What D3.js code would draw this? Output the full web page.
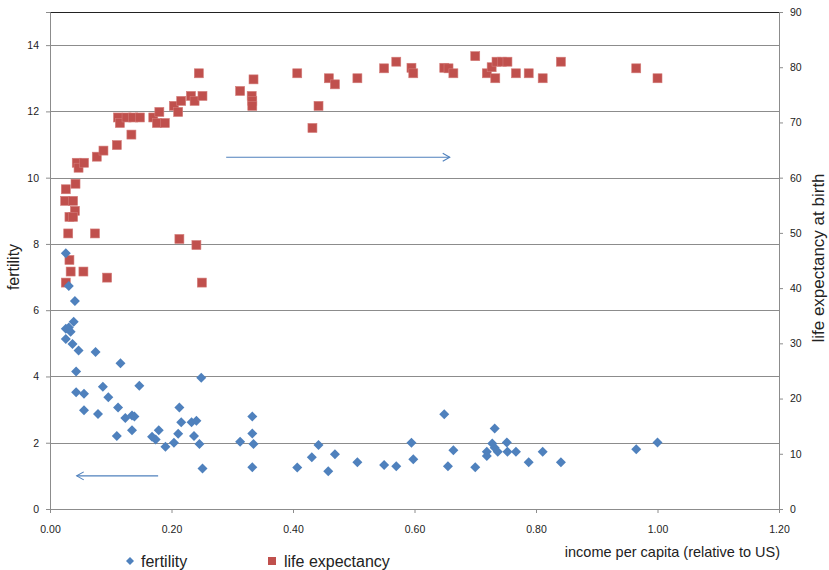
<!DOCTYPE html>
<html>
<head>
<meta charset="utf-8">
<script src="https://cdn.jsdelivr.net/npm/d3@7"></script>
<style>
  body { margin: 0; background: #fff; }
  text { font-family: "Liberation Sans", Arial, sans-serif; fill: #222; }
</style>
</head>
<body>
<div id="chart"></div>
<script>
// fertility series: income per capita (relative to US) and fertility
var fertIncome = [0.026, 0.031, 0.041, 0.026, 0.026, 0.031, 0.034, 0.039, 0.037, 0.047, 0.043, 0.043, 0.056, 0.056,
    0.075, 0.116, 0.087, 0.096, 0.079, 0.147, 0.112, 0.124, 0.135, 0.139, 0.135, 0.110, 0.168, 0.174, 0.179, 0.190,
    0.204, 0.211, 0.213, 0.216, 0.233, 0.241, 0.237, 0.246, 0.249, 0.251, 0.313, 0.333, 0.333, 0.335, 0.333,
    0.407, 0.431, 0.442, 0.458, 0.469, 0.506, 0.550, 0.570, 0.595, 0.598, 0.649, 0.655, 0.664, 0.700, 0.719,
    0.719, 0.728, 0.732, 0.732, 0.737, 0.752, 0.753, 0.767, 0.788, 0.811, 0.841, 0.965, 1.00];
var fertility = [7.72, 6.73, 6.28, 5.13, 5.44, 5.48, 5.35, 5.65, 4.98, 4.78, 4.15, 3.52, 3.48, 2.98,
    4.74, 4.40, 3.69, 3.37, 2.87, 3.72, 3.06, 2.75, 2.82, 2.79, 2.38, 2.20, 2.18, 2.10, 2.38, 1.88,
    2.00, 2.27, 3.06, 2.62, 2.62, 2.66, 2.20, 1.96, 3.96, 1.22, 2.03, 2.28, 2.79, 1.96, 1.26,
    1.25, 1.56, 1.93, 1.14, 1.65, 1.41, 1.33, 1.29, 2.00, 1.50, 2.86, 1.29, 1.77, 1.26, 1.73,
    1.60, 1.98, 2.43, 1.85, 1.73, 2.01, 1.73, 1.73, 1.41, 1.73, 1.41, 1.80, 2.01];

// life expectancy series: income per capita and life expectancy at birth
var lifeIncome = [0.026, 0.025, 0.038, 0.042, 0.044, 0.047, 0.056, 0.041, 0.032, 0.038, 0.030, 0.026, 0.032, 0.034,
    0.055, 0.094, 0.074, 0.077, 0.088, 0.110, 0.134, 0.112, 0.115, 0.126, 0.137, 0.148, 0.170, 0.180, 0.176, 0.189,
    0.204, 0.211, 0.216, 0.232, 0.238, 0.251, 0.245, 0.213, 0.241, 0.250, 0.313, 0.332, 0.333, 0.333, 0.335,
    0.407, 0.442, 0.432, 0.459, 0.469, 0.506, 0.550, 0.570, 0.595, 0.598, 0.649, 0.656, 0.664, 0.700, 0.719,
    0.727, 0.733, 0.735, 0.744, 0.753, 0.767, 0.788, 0.811, 0.841, 0.965, 1.00];
var lifeExp = [57.9, 55.8, 55.8, 58.9, 62.7, 61.8, 62.7, 54.0, 52.9, 52.9, 49.9, 41.0, 45.1, 43.0,
    43.0, 41.9, 49.9, 63.8, 64.9, 65.9, 67.8, 70.9, 69.9, 70.9, 70.9, 70.9, 70.9, 71.9, 69.9, 69.9,
    73.0, 71.9, 73.9, 74.8, 73.9, 74.8, 78.9, 48.9, 47.8, 41.0, 75.7, 74.8, 73.9, 73.0, 77.8,
    78.9, 73.0, 69.0, 78.0, 76.9, 78.0, 79.8, 81.0, 79.9, 78.9, 79.9, 79.8, 78.9, 82.0, 78.9,
    80.0, 78.0, 81.0, 81.0, 81.0, 78.9, 78.9, 78.0, 81.0, 79.8, 78.0];

var xTicks = [0, 0.2, 0.4, 0.6, 0.8, 1.0, 1.2];
var leftTicks = [0, 2, 4, 6, 8, 10, 12, 14];
var rightTicks = [0, 10, 20, 30, 40, 50, 60, 70, 80, 90];

// arrows pointing to the axis each series belongs to
var lifeArrow = {x0: 0.29, x1: 0.658, y: 63.7};
var fertArrow = {x0: 0.178, x1: 0.044, y: 1.0};

var width = 829, height = 570;
var plotLeft = 50, plotRight = 779, plotTop = 12, plotBottom = 509;
var blue = "#4F81BD", red = "#C0504D", gridCol = "#8c8c8c";

var svg = d3.select("#chart").append("svg")
    .attr("width", width)
    .attr("height", height);

var x = d3.scaleLinear().domain([0, 1.2]).range([plotLeft, plotRight]);
var yL = d3.scaleLinear().domain([0, 15]).range([plotBottom, plotTop]);
var yR = d3.scaleLinear().domain([0, 90]).range([plotBottom, plotTop]);

// horizontal gridlines
svg.append("g").selectAll("line")
    .data(leftTicks.slice(1))
    .enter().append("line")
    .attr("x1", plotLeft).attr("x2", plotRight)
    .attr("y1", function (d) { return Math.round(yL(d)) + 0.5; })
    .attr("y2", function (d) { return Math.round(yL(d)) + 0.5; })
    .attr("stroke", gridCol)
    .attr("stroke-width", 1);

// top border
svg.append("line")
    .attr("x1", plotLeft).attr("x2", plotRight)
    .attr("y1", plotTop + 0.5).attr("y2", plotTop + 0.5)
    .attr("stroke", "#222").attr("stroke-width", 1.2);

// axes
var fmt = d3.format(".2f");
svg.append("g")
    .attr("class", "axis")
    .attr("transform", "translate(0," + plotBottom + ")")
    .call(d3.axisBottom(x).tickValues(xTicks).tickFormat(fmt).tickSize(4).tickPadding(13));

svg.append("g")
    .attr("class", "axis")
    .attr("transform", "translate(" + plotLeft + ",0)")
    .call(d3.axisLeft(yL).tickValues(leftTicks).tickSize(4).tickPadding(7));

svg.append("g")
    .attr("class", "axis")
    .attr("transform", "translate(" + plotRight + ",0)")
    .call(d3.axisRight(yR).tickValues(rightTicks).tickSize(4).tickPadding(7));

svg.selectAll(".axis path").attr("stroke", gridCol);
svg.selectAll(".axis line").attr("stroke", gridCol);
svg.selectAll(".axis text")
    .style("font-family", "'Liberation Sans', Arial, sans-serif")
    .style("font-size", "10.5px")
    .attr("fill", "#222");

// life expectancy squares
var sq = 9;
svg.append("g").selectAll("rect")
    .data(lifeExp)
    .enter().append("rect")
    .attr("x", function (d, i) { return x(lifeIncome[i]) - sq / 2; })
    .attr("y", function (d) { return yR(d) - sq / 2; })
    .attr("width", sq).attr("height", sq)
    .attr("fill", red)
    .attr("stroke", "#d37b78")
    .attr("stroke-width", 0.6);

// fertility diamonds
var dm = 5;
svg.append("g").selectAll("path")
    .data(fertility)
    .enter().append("path")
    .attr("transform", function (d, i) {
        return "translate(" + x(fertIncome[i]) + "," + yL(d) + ")";
    })
    .attr("d", "M0," + (-dm) + "L" + dm + ",0L0," + dm + "L" + (-dm) + ",0Z")
    .attr("fill", blue);

// arrows
function arrow(x0, x1, yPix) {
    var dir = x1 > x0 ? 1 : -1;
    svg.append("line")
        .attr("x1", x0).attr("x2", x1)
        .attr("y1", yPix).attr("y2", yPix)
        .attr("stroke", blue).attr("stroke-width", 1.1);
    svg.append("path")
        .attr("d", "M" + (x1 - dir * 7) + "," + (yPix - 4) + "L" + x1 + "," + yPix + "L" + (x1 - dir * 7) + "," + (yPix + 4))
        .attr("fill", "none").attr("stroke", blue).attr("stroke-width", 1.1);
}
arrow(x(lifeArrow.x0), x(lifeArrow.x1), yR(lifeArrow.y));
arrow(x(fertArrow.x0), x(fertArrow.x1), yL(fertArrow.y));

// axis titles
svg.append("text")
    .attr("transform", "translate(19,267) rotate(-90)")
    .attr("text-anchor", "middle")
    .style("font-size", "16px")
    .text("fertility");

svg.append("text")
    .attr("transform", "translate(824,258) rotate(-90)")
    .attr("text-anchor", "middle")
    .style("font-size", "17px")
    .text("life expectancy at birth");

svg.append("text")
    .attr("x", 780).attr("y", 557)
    .attr("text-anchor", "end")
    .style("font-size", "14.5px")
    .text("income per capita (relative to US)");

// legend
var lg = svg.append("g").attr("transform", "translate(0,561)");
lg.append("path")
    .attr("transform", "translate(130,0)")
    .attr("d", "M0,-4L4,0L0,4L-4,0Z")
    .attr("fill", blue);
lg.append("text")
    .attr("x", 141).attr("y", 6)
    .style("font-size", "16px")
    .text("fertility");
lg.append("rect")
    .attr("x", 268).attr("y", -4)
    .attr("width", 8).attr("height", 8)
    .attr("fill", red);
lg.append("text")
    .attr("x", 284).attr("y", 6)
    .style("font-size", "16px")
    .text("life expectancy");
</script>
</body>
</html>
